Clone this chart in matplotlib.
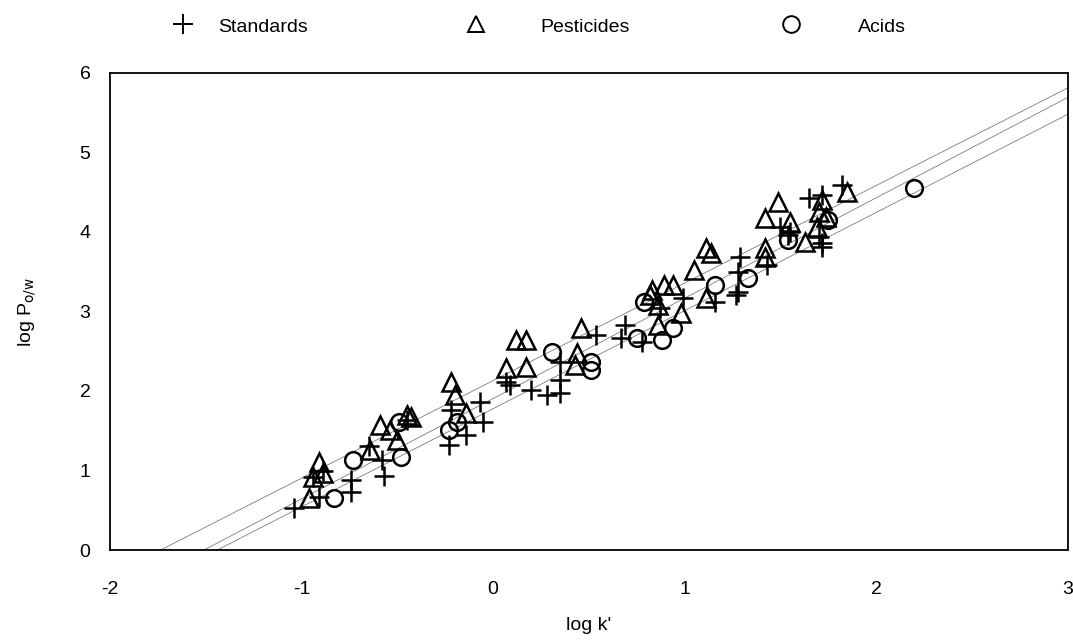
import numpy as np
import matplotlib
matplotlib.use("Agg")
from matplotlib import pyplot as plt

plt.rcParams['font.family'] = ['Liberation Sans', 'DejaVu Sans']
plt.rcParams['axes.unicode_minus'] = False  # pakai tanda '-' biasa

# data: log k' dan log Po/w
std_x = [-1.04, -0.91, -0.94, -0.89, -0.74, -0.74, -0.65, -0.58, -0.57, -0.45,
         -0.22, -0.07, -0.05, -0.14, -0.23, 0.07, 0.09, 0.20, 0.28, 0.35, 0.35, 0.35,
         0.54, 0.69, 0.67, 0.78, 0.87, 0.99, 1.16, 1.27, 1.29, 1.28, 1.28, 1.43,
         1.65, 1.72, 1.82, 1.72, 1.54, 1.55, 1.50, 1.70, 1.72]
std_y = [0.53, 0.67, 0.92, 1.00, 0.88, 0.73, 1.31, 1.13, 0.93, 1.64,
         1.76, 1.86, 1.61, 1.45, 1.32, 2.11, 2.08, 2.01, 1.95, 1.97, 2.14, 2.37,
         2.70, 2.83, 2.67, 2.62, 3.04, 3.17, 3.12, 3.21, 3.69, 3.50, 3.25, 3.58,
         4.43, 4.47, 4.59, 3.86, 3.96, 4.00, 4.06, 3.94, 3.81]

pest_x = [-0.96, -0.91, -0.89, -0.94, -0.64, -0.59, -0.54, -0.50, -0.45, -0.43,
          -0.22, -0.20, -0.14, 0.07, 0.17, 0.12, 0.17, 0.44, 0.43, 0.46,
          0.83, 0.89, 0.94, 0.82, 0.86, 0.86, 0.98, 1.05, 1.11, 1.11, 1.14,
          1.49, 1.42, 1.55, 1.42, 1.42, 1.63, 1.72, 1.70, 1.69, 1.85, 1.74]
pest_y = [0.65, 1.11, 0.97, 0.92, 1.26, 1.57, 1.51, 1.38, 1.70, 1.67,
          2.11, 1.95, 1.72, 2.29, 2.30, 2.64, 2.64, 2.48, 2.33, 2.79,
          3.27, 3.33, 3.33, 3.21, 3.08, 2.83, 2.98, 3.52, 3.17, 3.80, 3.74,
          4.38, 4.18, 4.13, 3.80, 3.69, 3.87, 4.40, 4.25, 4.06, 4.50, 4.19]

acid_x = [-0.83, -0.73, -0.48, -0.49, -0.23, -0.19, 0.31, 0.51, 0.51,
          0.79, 0.75, 0.88, 0.94, 1.16, 1.33, 1.54, 1.75, 2.20]
acid_y = [0.65, 1.13, 1.17, 1.61, 1.51, 1.61, 2.49, 2.36, 2.26,
          3.12, 2.67, 2.64, 2.79, 3.33, 3.42, 3.90, 4.15, 4.55]

# garis regresi (slope, intercept)
slopes = [1.227, 1.262, 1.234]
intercepts = [2.13, 1.905, 1.777]

fig = plt.figure(figsize=(10.73, 6.4), dpi=100)
ax = fig.add_axes([0.1025, 0.1406, 0.8925, 0.7454])

xx = np.array([-2, 3])
for m, b in zip(slopes, intercepts):
    ax.plot(xx, m * xx + b, color='#666666', lw=0.5)

mk = dict(linestyle='none', color='black', mfc='none', mew=1.8)
ax.plot(std_x, std_y, marker='+', ms=14, **mk)
ax.plot(pest_x, pest_y, marker='^', ms=13, **mk)
ax.plot(acid_x, acid_y, marker='o', ms=12, **mk)

ax.set_xlim(-2, 3)
ax.set_ylim(0, 6)
ax.set_xticks([-2, -1, 0, 1, 2, 3])
ax.set_yticks([0, 1, 2, 3, 4, 5, 6])
ax.tick_params(axis='x', length=0, labelsize=14, pad=22)
ax.tick_params(axis='y', length=0, labelsize=14, pad=14)
for s in ax.spines.values():
    s.set_linewidth(1.3)
ax.set_xlabel("log k'", fontsize=14, labelpad=14)
ax.set_ylabel(r'log P$_{\mathrm{o/w}}$', fontsize=14, labelpad=30)

# legenda di atas
leg_items = [('+', 'Standards', 183, 218), ('^', 'Pesticides', 476, 540), ('o', 'Acids', 791, 858)]
for m, lab, mx, tx in leg_items:
    fig.lines.append(plt.Line2D([mx / 1073], [1 - 24 / 640], marker=m, ms=12 if m != '+' else 14,
                                mfc='none', color='black', mew=1.4, transform=fig.transFigure))
    fig.text(tx / 1073, 1 - 28 / 640, lab, fontsize=14, va='center', ha='left')

plt.savefig('out.png', dpi=100)
